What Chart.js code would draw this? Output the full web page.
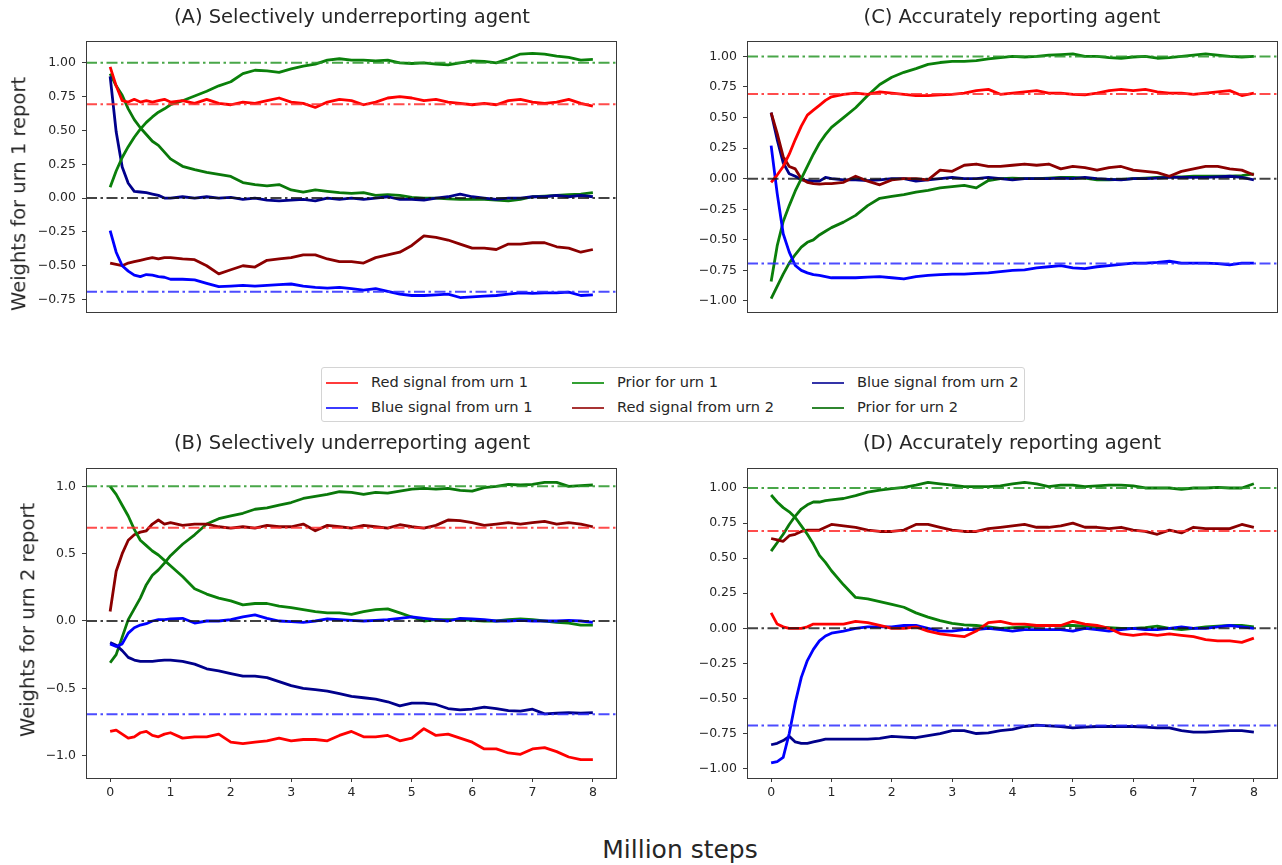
<!DOCTYPE html>
<html>
<head>
<meta charset="utf-8">
<script src="https://cdn.jsdelivr.net/npm/chart.js@4.4.1/dist/chart.umd.min.js"></script>
<style>
  body { margin: 0; background: #fff; font-family: "DejaVu Sans", sans-serif; color: #262626; }
  #fig { position: relative; width: 1282px; height: 865px; overflow: hidden; }
  canvas { position: absolute; }
  .title { position: absolute; font-size: 19.5px; line-height: 1; white-space: nowrap; transform: translate(-50%, -50%); }
  .ylab { position: absolute; font-size: 19.5px; line-height: 1; white-space: nowrap; transform: translate(-50%, -50%) rotate(-90deg); }
  .xlab { position: absolute; font-size: 25px; line-height: 1; white-space: nowrap; transform: translate(-50%, -50%); }
  #legend { position: absolute; left: 321px; top: 367px; width: 704px; height: 55px; border: 1px solid #d4d4d4; border-radius: 3px; box-sizing: border-box; }
  .item { position: absolute; font-size: 14.6px; line-height: 1; white-space: nowrap; }
  .item i { position: absolute; left: 0; top: 7px; width: 32px; height: 2px; }
  .item span { position: absolute; left: 45px; top: 0; }
</style>
</head>
<body>
<div id="fig">
  <canvas id="panelA" width="620" height="330" style="left:0px;top:27px"></canvas>
  <canvas id="panelC" width="621" height="330" style="left:660px;top:27px"></canvas>
  <canvas id="panelB" width="620" height="364" style="left:0px;top:454px"></canvas>
  <canvas id="panelD" width="621" height="364" style="left:660px;top:454px"></canvas>

  <div class="title" style="left:352px;top:17px">(A) Selectively underreporting agent</div>
  <div class="title" style="left:1012px;top:17px">(C) Accurately reporting agent</div>
  <div class="title" style="left:352px;top:443px">(B) Selectively underreporting agent</div>
  <div class="title" style="left:1012px;top:443px">(D) Accurately reporting agent</div>

  <div class="ylab" style="left:19px;top:194px">Weights for urn 1 report</div>
  <div class="ylab" style="left:28px;top:620px">Weights for urn 2 report</div>
  <div class="xlab" style="left:680px;top:849px">Million steps</div>

  <div id="legend"></div>
</div>

<script>
// x positions (million steps) shared by every curve
const steps = [0, 0.1, 0.2, 0.3, 0.4, 0.5, 0.6, 0.7, 0.8, 0.9, 1.0,
  1.2, 1.4, 1.6, 1.8, 2.0, 2.2, 2.4, 2.6, 2.8, 3.0, 3.2, 3.4, 3.6, 3.8, 4.0,
  4.2, 4.4, 4.6, 4.8, 5.0, 5.2, 5.4, 5.6, 5.8, 6.0, 6.2, 6.4, 6.6, 6.8, 7.0,
  7.2, 7.4, 7.6, 7.8, 8.0];

const xTicks = [0, 1, 2, 3, 4, 5, 6, 7, 8];
const yTicksA = [-0.75, -0.5, -0.25, 0, 0.25, 0.5, 0.75, 1.0];
const yTicksB = [-1.0, -0.5, 0, 0.5, 1.0];
const yTicksCD = [-1.0, -0.75, -0.5, -0.25, 0, 0.25, 0.5, 0.75, 1.0];

// dash-dot target levels
const priorLevel = 1.0;
const redLevel = 0.693;
const zeroLevel = 0.0;
const blueLevel = -0.693;

// (A) urn 1 report, selectively underreporting
const aRed1 = [0.97, 0.83, 0.72, 0.71, 0.73, 0.71, 0.72, 0.71, 0.72, 0.73, 0.71,
  0.72, 0.70, 0.73, 0.70, 0.69, 0.71, 0.70, 0.72, 0.74, 0.71,
  0.70, 0.67, 0.71, 0.73, 0.72, 0.69, 0.71, 0.74, 0.75, 0.74,
  0.72, 0.73, 0.71, 0.70, 0.69, 0.70, 0.69, 0.72, 0.73, 0.71,
  0.70, 0.71, 0.73, 0.70, 0.68];
const aBlue1 = [-0.24, -0.40, -0.50, -0.54, -0.57, -0.58, -0.565, -0.57, -0.58, -0.585, -0.60,
  -0.60, -0.605, -0.63, -0.655, -0.65, -0.645, -0.65, -0.645, -0.64, -0.635,
  -0.65, -0.66, -0.665, -0.66, -0.67, -0.68, -0.67, -0.69, -0.71, -0.72,
  -0.72, -0.715, -0.71, -0.735, -0.73, -0.725, -0.72, -0.71, -0.70, -0.705,
  -0.70, -0.70, -0.695, -0.72, -0.715];
const aPrior1 = [0.08, 0.20, 0.30, 0.38, 0.45, 0.51, 0.56, 0.60, 0.635, 0.66, 0.69,
  0.72, 0.755, 0.79, 0.83, 0.86, 0.92, 0.945, 0.94, 0.93, 0.955,
  0.975, 0.99, 1.02, 1.03, 1.02, 1.02, 1.015, 1.02, 1.0, 0.995,
  1.0, 0.99, 0.985, 1.0, 1.015, 1.01, 1.0, 1.03, 1.065, 1.07,
  1.065, 1.05, 1.04, 1.02, 1.025];
const aRed2 = [-0.48, -0.49, -0.50, -0.48, -0.47, -0.46, -0.45, -0.44, -0.45, -0.44, -0.44,
  -0.45, -0.455, -0.50, -0.56, -0.53, -0.50, -0.51, -0.46, -0.45, -0.44,
  -0.42, -0.42, -0.45, -0.47, -0.47, -0.48, -0.44, -0.42, -0.40, -0.35,
  -0.28, -0.29, -0.31, -0.34, -0.37, -0.37, -0.38, -0.34, -0.34, -0.33,
  -0.33, -0.36, -0.37, -0.40, -0.38];
const aBlue2 = [0.90, 0.49, 0.23, 0.11, 0.05, 0.045, 0.04, 0.03, 0.02, 0.0, 0.0,
  0.01, 0.0, 0.01, 0.0, 0.005, -0.01, 0.0, -0.015, -0.02, -0.015,
  -0.01, -0.02, 0.0, -0.01, 0.0, -0.01, 0.0, 0.01, -0.01, -0.01,
  -0.015, 0.0, 0.01, 0.03, 0.01, 0.0, -0.01, 0.0, 0.0, 0.01,
  0.01, 0.02, 0.01, 0.02, 0.01];
const aPrior2 = [0.92, 0.83, 0.76, 0.66, 0.58, 0.52, 0.47, 0.42, 0.39, 0.34, 0.29,
  0.235, 0.21, 0.19, 0.175, 0.16, 0.115, 0.10, 0.09, 0.10, 0.06,
  0.045, 0.06, 0.05, 0.04, 0.035, 0.04, 0.02, 0.025, 0.02, 0.005,
  0.0, 0.0, -0.005, -0.01, -0.01, -0.01, -0.015, -0.02, -0.01, 0.01,
  0.015, 0.02, 0.025, 0.03, 0.04];

// (C) urn 1 report, accurately reporting
const cRed1 = [-0.03, 0.03, 0.10, 0.20, 0.32, 0.43, 0.52, 0.56, 0.60, 0.64, 0.67,
  0.69, 0.70, 0.69, 0.71, 0.70, 0.69, 0.68, 0.68, 0.685, 0.69,
  0.70, 0.72, 0.73, 0.69, 0.70, 0.71, 0.72, 0.70, 0.70, 0.69,
  0.685, 0.70, 0.72, 0.73, 0.72, 0.73, 0.71, 0.70, 0.70, 0.69,
  0.70, 0.71, 0.72, 0.68, 0.70];
const cBlue1 = [0.27, -0.12, -0.45, -0.60, -0.71, -0.75, -0.77, -0.785, -0.79, -0.80, -0.81,
  -0.81, -0.81, -0.805, -0.80, -0.81, -0.82, -0.80, -0.79, -0.785, -0.78,
  -0.78, -0.775, -0.77, -0.76, -0.75, -0.745, -0.73, -0.72, -0.71, -0.73,
  -0.735, -0.72, -0.71, -0.70, -0.69, -0.69, -0.685, -0.675, -0.69, -0.69,
  -0.69, -0.695, -0.705, -0.69, -0.69];
const cPrior1 = [-0.84, -0.55, -0.35, -0.22, -0.10, 0.0, 0.10, 0.20, 0.29, 0.36, 0.42,
  0.50, 0.58, 0.68, 0.77, 0.83, 0.87, 0.90, 0.935, 0.95, 0.96,
  0.96, 0.965, 0.98, 0.99, 1.0, 0.995, 1.0, 1.01, 1.015, 1.02,
  1.0, 1.0, 0.99, 0.985, 0.995, 1.0, 0.985, 0.99, 1.0, 1.01,
  1.02, 1.01, 1.0, 0.995, 1.0];
const cRed2 = [0.54, 0.37, 0.18, 0.10, 0.08, 0.0, -0.03, -0.04, -0.045, -0.04, -0.04,
  -0.03, 0.02, -0.02, -0.05, -0.01, 0.0, 0.0, -0.01, 0.07, 0.06,
  0.11, 0.12, 0.10, 0.10, 0.11, 0.12, 0.11, 0.12, 0.08, 0.10,
  0.09, 0.07, 0.09, 0.10, 0.07, 0.06, 0.05, 0.02, 0.06, 0.08,
  0.10, 0.10, 0.08, 0.07, 0.03];
const cBlue2 = [0.54, 0.32, 0.13, 0.04, 0.02, -0.01, -0.015, -0.02, -0.02, 0.01, 0.0,
  -0.01, -0.01, -0.015, -0.01, 0.0, 0.0, -0.02, -0.01, 0.0, 0.01,
  0.0, 0.0, 0.01, 0.0, -0.01, 0.0, 0.0, 0.0, 0.005, 0.0,
  0.01, 0.0, -0.005, -0.01, 0.0, 0.0, 0.005, 0.01, 0.01, 0.01,
  0.01, 0.015, 0.02, 0.01, -0.01];
const cPrior2 = [-0.98, -0.88, -0.78, -0.69, -0.62, -0.56, -0.52, -0.50, -0.46, -0.43, -0.40,
  -0.355, -0.30, -0.22, -0.16, -0.145, -0.13, -0.11, -0.095, -0.075, -0.065,
  -0.055, -0.075, -0.015, 0.0, 0.005, 0.0, 0.0, 0.005, 0.01, 0.01,
  0.005, -0.01, -0.01, -0.005, 0.0, 0.005, 0.01, 0.015, 0.015, 0.02,
  0.02, 0.02, 0.02, 0.025, 0.04];

// (B) urn 2 report, selectively underreporting
const bRed1 = [-0.82, -0.81, -0.84, -0.87, -0.86, -0.83, -0.82, -0.85, -0.86, -0.84, -0.83,
  -0.87, -0.86, -0.86, -0.84, -0.90, -0.91, -0.90, -0.89, -0.87, -0.89,
  -0.88, -0.88, -0.89, -0.85, -0.82, -0.86, -0.86, -0.85, -0.89, -0.87,
  -0.80, -0.85, -0.84, -0.87, -0.90, -0.95, -0.95, -0.98, -0.99, -0.95,
  -0.94, -0.97, -1.01, -1.03, -1.03];
const bBlue1 = [-0.17, -0.19, -0.17, -0.09, -0.05, -0.03, -0.02, 0.0, 0.01, 0.01, 0.015,
  0.02, -0.015, 0.0, 0.0, 0.01, 0.03, 0.045, 0.02, 0.0, -0.005,
  -0.01, 0.0, 0.015, 0.01, 0.005, 0.0, 0.005, 0.01, 0.02, 0.03,
  0.02, 0.01, 0.0, 0.02, 0.015, 0.01, 0.0, 0.0, 0.005, 0.0,
  0.0, 0.0, 0.005, 0.0, -0.01];
const bPrior1 = [1.0, 0.94, 0.86, 0.78, 0.68, 0.60, 0.56, 0.52, 0.49, 0.45, 0.41,
  0.33, 0.24, 0.20, 0.17, 0.15, 0.12, 0.13, 0.13, 0.11, 0.10,
  0.085, 0.07, 0.06, 0.06, 0.05, 0.07, 0.085, 0.09, 0.06, 0.03,
  0.0, 0.01, 0.01, 0.01, 0.005, 0.0, 0.0, 0.01, 0.015, 0.01,
  0.0, -0.01, -0.015, -0.03, -0.03];
const bRed2 = [0.07, 0.37, 0.50, 0.60, 0.64, 0.66, 0.67, 0.72, 0.75, 0.72, 0.73,
  0.71, 0.72, 0.72, 0.70, 0.69, 0.70, 0.69, 0.71, 0.70, 0.70,
  0.72, 0.67, 0.71, 0.70, 0.69, 0.71, 0.70, 0.69, 0.715, 0.70,
  0.69, 0.71, 0.75, 0.745, 0.73, 0.71, 0.72, 0.73, 0.72, 0.73,
  0.74, 0.72, 0.73, 0.72, 0.70];
const bBlue2 = [-0.16, -0.18, -0.22, -0.27, -0.29, -0.30, -0.30, -0.30, -0.295, -0.29, -0.29,
  -0.30, -0.32, -0.355, -0.37, -0.39, -0.41, -0.41, -0.42, -0.45, -0.48,
  -0.50, -0.51, -0.52, -0.54, -0.56, -0.57, -0.58, -0.60, -0.63, -0.61,
  -0.61, -0.62, -0.65, -0.66, -0.655, -0.64, -0.65, -0.665, -0.67, -0.655,
  -0.69, -0.685, -0.68, -0.685, -0.68];
const bPrior2 = [-0.31, -0.25, -0.12, 0.01, 0.09, 0.17, 0.27, 0.34, 0.38, 0.43, 0.485,
  0.57, 0.64, 0.72, 0.76, 0.78, 0.80, 0.83, 0.84, 0.86, 0.88,
  0.91, 0.925, 0.94, 0.96, 0.955, 0.94, 0.955, 0.95, 0.965, 0.98,
  0.985, 0.98, 0.985, 0.97, 0.965, 0.99, 1.0, 1.015, 1.01, 1.015,
  1.03, 1.03, 1.0, 1.005, 1.01];

// (D) urn 2 report, accurately reporting
const dRed1 = [0.11, 0.03, 0.01, 0.0, 0.0, 0.0, 0.01, 0.03, 0.03, 0.03, 0.03,
  0.03, 0.05, 0.04, 0.02, 0.0, 0.0, 0.01, -0.02, -0.04, -0.05,
  -0.06, -0.02, 0.04, 0.05, 0.03, 0.03, 0.02, 0.02, 0.02, 0.05,
  0.03, 0.02, 0.0, -0.04, -0.05, -0.04, -0.05, -0.04, -0.05, -0.06,
  -0.08, -0.09, -0.09, -0.10, -0.07];
const dBlue1 = [-0.96, -0.95, -0.92, -0.75, -0.53, -0.35, -0.23, -0.15, -0.09, -0.055, -0.035,
  -0.02, 0.0, 0.01, 0.01, 0.01, 0.02, 0.02, 0.0, -0.02, -0.02,
  -0.01, -0.01, 0.0, -0.01, -0.02, -0.01, -0.01, -0.01, -0.01, -0.02,
  0.0, -0.01, -0.02, -0.01, 0.0, -0.01, -0.01, 0.0, 0.01, 0.0,
  0.0, 0.01, 0.02, 0.01, 0.0];
const dPrior1 = [0.95, 0.90, 0.86, 0.83, 0.79, 0.73, 0.67, 0.60, 0.52, 0.47, 0.41,
  0.31, 0.22, 0.21, 0.19, 0.17, 0.15, 0.11, 0.08, 0.055, 0.035,
  0.025, 0.02, 0.01, 0.0, 0.005, 0.01, 0.015, 0.02, 0.02, 0.02,
  0.015, 0.01, 0.005, 0.0, 0.0, 0.005, 0.015, 0.0, -0.01, 0.0,
  0.01, 0.015, 0.02, 0.02, 0.01];
const dRed2 = [0.64, 0.63, 0.62, 0.66, 0.67, 0.69, 0.70, 0.70, 0.70, 0.72, 0.74,
  0.73, 0.72, 0.70, 0.69, 0.69, 0.70, 0.74, 0.74, 0.72, 0.70,
  0.69, 0.69, 0.71, 0.72, 0.73, 0.74, 0.72, 0.72, 0.73, 0.75,
  0.72, 0.72, 0.71, 0.72, 0.70, 0.69, 0.67, 0.70, 0.68, 0.72,
  0.71, 0.71, 0.71, 0.74, 0.72];
const dBlue2 = [-0.83, -0.82, -0.80, -0.77, -0.81, -0.82, -0.82, -0.81, -0.80, -0.79, -0.79,
  -0.79, -0.79, -0.79, -0.785, -0.77, -0.775, -0.78, -0.765, -0.75, -0.73,
  -0.73, -0.75, -0.745, -0.73, -0.72, -0.70, -0.69, -0.695, -0.70, -0.71,
  -0.705, -0.70, -0.70, -0.70, -0.70, -0.705, -0.71, -0.71, -0.73, -0.74,
  -0.74, -0.735, -0.73, -0.73, -0.74];
const dPrior2 = [0.55, 0.61, 0.67, 0.74, 0.80, 0.85, 0.88, 0.90, 0.90, 0.91, 0.915,
  0.925, 0.945, 0.97, 0.985, 0.995, 1.005, 1.02, 1.04, 1.03, 1.02,
  1.01, 1.01, 1.01, 1.015, 1.03, 1.04, 1.03, 1.01, 1.02, 1.02,
  1.01, 1.015, 1.02, 1.02, 1.015, 1.0, 1.0, 1.0, 0.99, 1.0,
  1.0, 1.005, 1.0, 1.0, 1.03];

const seriesNames = ['Red signal from urn 1', 'Blue signal from urn 1', 'Prior for urn 1',
  'Red signal from urn 2', 'Blue signal from urn 2', 'Prior for urn 2'];
const lineColors = ['#ff0000', '#0000ff', '#0a800a', '#8b0000', '#00008b', '#0a780a'];
const legendColors = ['#ff3b3b', '#3b3bff', '#33a033', '#a83434', '#3434a8', '#2f862f'];

const toPoints = (values) => steps.map((s, i) => ({ x: s, y: values[i] }));

const refLine = (level, color) => ({
    data: [{ x: -0.4, y: level }, { x: 8.4, y: level }],
    borderColor: color,
    borderWidth: 2,
    borderDash: [11, 3.5, 2.5, 3.5],
    pointRadius: 0
});

const frame = {
    id: 'frame',
    afterDraw(chart) {
        const { ctx, chartArea: a } = chart;
        ctx.save();
        ctx.strokeStyle = '#3a3a3a';
        ctx.lineWidth = 1;
        ctx.strokeRect(Math.round(a.left) + 0.5, Math.round(a.top) + 0.5,
            Math.round(a.right - a.left) - 1, Math.round(a.bottom - a.top) - 1);
        ctx.restore();
    }
};

const fmt = (v, dec) => (v < 0 ? '\u2212' : '') + Math.abs(v).toFixed(dec);

const makePanel = (id, curves, yMin, yMax, yTicks, dec, showX, yWidth) => {
    const datasets = [
        refLine(zeroLevel, 'rgba(20,20,20,0.8)'),
        refLine(priorLevel, 'rgba(40,150,40,0.85)'),
        refLine(redLevel, 'rgba(255,45,45,0.85)'),
        refLine(blueLevel, 'rgba(45,45,255,0.85)')
    ];
    curves.forEach((values, k) => {
        datasets.push({
            data: toPoints(values),
            borderColor: lineColors[k],
            borderWidth: 2.8,
            pointRadius: 0,
            tension: 0,
            borderJoinStyle: 'round'
        });
    });

    const tickFont = { family: '"DejaVu Sans", sans-serif', size: 12.5 };
    const grid = { display: true, drawOnChartArea: false, drawTicks: true, tickLength: 4, color: '#3a3a3a' };

    new Chart(document.getElementById(id), {
        type: 'line',
        data: { datasets },
        options: {
            responsive: false,
            animation: false,
            devicePixelRatio: 1,
            layout: { padding: { top: 5, right: 3, bottom: showX ? 0 : 5, left: 0 } },
            plugins: { legend: { display: false }, tooltip: { enabled: false } },
            scales: {
                x: {
                    type: 'linear', min: -0.4, max: 8.4, display: showX,
                    afterBuildTicks: (axis) => { axis.ticks = xTicks.map(v => ({ value: v })); },
                    afterFit: (axis) => { axis.height = 40; },
                    grid, border: { display: false },
                    ticks: { font: tickFont, color: '#262626', padding: 3, autoSkip: false, maxRotation: 0,
                        callback: (v) => String(v) }
                },
                y: {
                    type: 'linear', min: yMin, max: yMax,
                    afterBuildTicks: (axis) => { axis.ticks = yTicks.map(v => ({ value: v })); },
                    afterFit: (axis) => { axis.width = yWidth; },
                    grid, border: { display: false },
                    ticks: { font: tickFont, color: '#262626', padding: 6, autoSkip: false,
                        callback: (v) => fmt(v, dec) }
                }
            }
        },
        plugins: [frame]
    });
};

const buildLegend = () => {
    const box = document.getElementById('legend');
    // matplotlib fills columns first: 3 columns x 2 rows
    const colX = [4, 250, 490];
    const rowY = [7, 32];
    seriesNames.forEach((name, k) => {
        const item = document.createElement('div');
        item.className = 'item';
        item.style.left = colX[Math.floor(k / 2)] + 'px';
        item.style.top = rowY[k % 2] + 'px';
        item.innerHTML = `<i style="background:${legendColors[k]}"></i><span>${name}</span>`;
        box.appendChild(item);
    });
};

makePanel('panelA', [aRed1, aBlue1, aPrior1, aRed2, aBlue2, aPrior2], -0.842, 1.165, yTicksA, 2, false, 86);
makePanel('panelC', [cRed1, cBlue1, cPrior1, cRed2, cBlue2, cPrior2], -1.09, 1.13, yTicksCD, 2, false, 87);
makePanel('panelB', [bRed1, bBlue1, bPrior1, bRed2, bBlue2, bPrior2], -1.166, 1.14, yTicksB, 1, true, 86);
makePanel('panelD', [dRed1, dBlue1, dPrior1, dRed2, dBlue2, dPrior2], -1.067, 1.146, yTicksCD, 2, true, 87);
buildLegend();
</script>
</body>
</html>
